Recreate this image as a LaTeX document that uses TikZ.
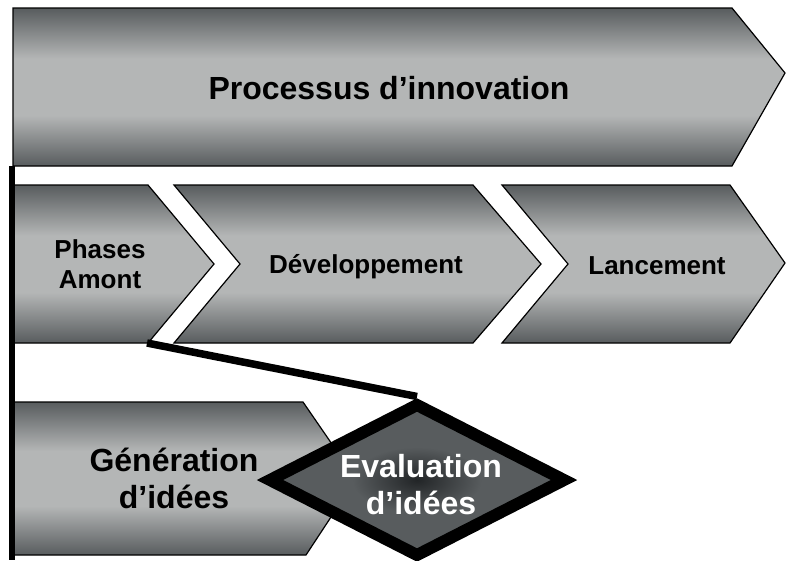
\documentclass[tikz,border=0pt]{standalone}
\usepackage{fontspec}
\setmainfont{Liberation Sans}
\usetikzlibrary{shapes.geometric}

\definecolor{barDark}{HTML}{585C5E}
\definecolor{barLight}{HTML}{B4B6B6}
\definecolor{evDark}{HTML}{222527}
\definecolor{evGray}{HTML}{585C5E}
\pgfdeclareverticalshading{barshade}{100bp}{color(0bp)=(barDark); color(25bp)=(barDark); color(41bp)=(barLight); color(59bp)=(barLight); color(75bp)=(barDark); color(100bp)=(barDark)}
\pgfdeclareradialshading{evalshade}{\pgfpoint{0bp}{0bp}}{color(0bp)=(evDark); color(11bp)=(evGray); color(50bp)=(evGray)}

\begin{document}
\begin{tikzpicture}[x=1pt,y=-1pt,
  bar/.style={draw=black,line width=1.2pt,shade,shading=barshade},
  bigtxt/.style={font=\fontsize{32}{37}\selectfont\bfseries,align=center},
  midtxt/.style={font=\fontsize{26}{30}\selectfont\bfseries,align=center},
  evalbox/.style={diamond,draw=black,line width=12pt,shade,shading=evalshade,
    minimum width=299pt,minimum height=155pt,inner sep=0pt},
  spine/.style={line width=6pt},
  funnel/.style={line width=7.5pt}]
\useasboundingbox (0,0) rectangle (786,560);
%draw top arrow:
\draw[bar] (13,8) -- (732,8) -- (785,73) -- (732,166) -- (13,166) -- cycle;
\draw (389,88) node[bigtxt] (proc) {Processus d’innovation};
%draw phases:
\draw[bar] (14,185) -- (148,185) -- (214,264) -- (148,343) -- (14,343) -- cycle;
\draw[bar] (174,185) -- (473,185) -- (541,264) -- (473,343) -- (174,343)
  -- (240,264) -- cycle;
\draw[bar] (502,185) -- (730,185) -- (785,263) -- (730,343) -- (502,343)
  -- (568,264) -- cycle;
\draw (100,264) node[midtxt] (amont) {Phases\\Amont};
\draw (366,267) node[midtxt] (dev) {Développement};
\draw (657,266) node[midtxt] (lanc) {Lancement};
%draw front end:
\draw[bar] (14,402) -- (303,402) -- (356,479) -- (306,555) -- (14,555) -- cycle;
\draw (174,478) node[bigtxt] (gen) {Génération\\d’idées};
\node[evalbox] (eval) at (417,480) {};
\draw (421,485) node[bigtxt,white] (evaltxt) {Evaluation\\d’idées};
%draw lines:
\coordinate (spine-top) at (11.5,166);
\coordinate (spine-bot) at (11.5,560);
\coordinate (pa-corner) at (147,343);
\draw[spine] (spine-top) -- (spine-bot);
\draw[funnel] (pa-corner) -- (eval.north);
\end{tikzpicture}
\end{document}
